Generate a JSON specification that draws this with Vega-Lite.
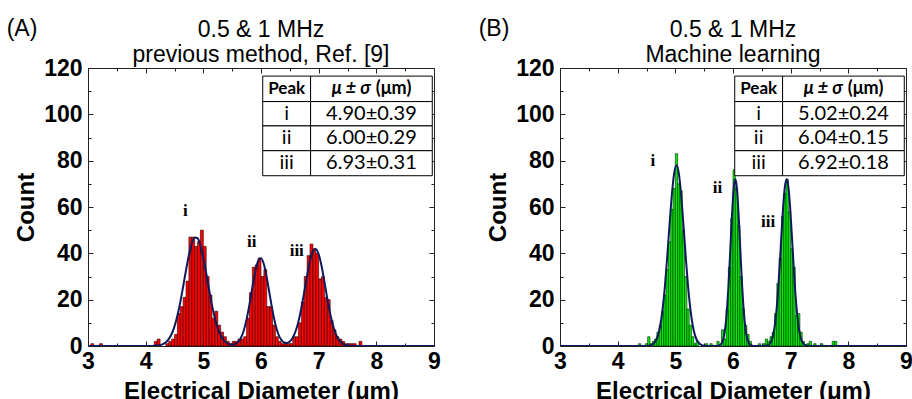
{
  "$schema": "https://vega.github.io/schema/vega-lite/v6.json",
  "padding": {"left": 6, "top": 17, "right": 0, "bottom": 0},
  "spacing": 37,
  "config": {
    "font": "Liberation Sans",
    "view": {"stroke": null},
    "axis": {
      "grid": false,
      "domainColor": "#222",
      "tickColor": "#222",
      "domainWidth": 1,
      "tickWidth": 1,
      "labelFont": "Liberation Sans",
      "labelFontSize": 23,
      "labelFontWeight": "bold",
      "labelColor": "black",
      "titleFont": "Liberation Sans",
      "titleFontSize": 24,
      "titleFontWeight": "bold",
      "titleColor": "black",
      "labelOverlap": false,
      "labelFlush": false
    },
    "title": {"font": "Liberation Sans", "fontSize": 23, "fontWeight": "normal", "color": "black", "lineHeight": 25, "offset": -49.5, "frame": "group"}
  },
  "datasets": {
    "barsA": [
      {"x0":3.05,"x1":3.10,"n":1},{"x0":3.20,"x1":3.25,"n":1},{"x0":4.15,"x1":4.20,"n":2},{"x0":4.20,"x1":4.25,"n":3},
      {"x0":4.35,"x1":4.40,"n":1},{"x0":4.40,"x1":4.45,"n":2},{"x0":4.45,"x1":4.50,"n":3},{"x0":4.50,"x1":4.55,"n":5},
      {"x0":4.55,"x1":4.60,"n":14},{"x0":4.60,"x1":4.65,"n":17},{"x0":4.65,"x1":4.70,"n":21},{"x0":4.70,"x1":4.75,"n":28},
      {"x0":4.75,"x1":4.80,"n":47},{"x0":4.80,"x1":4.85,"n":47},{"x0":4.85,"x1":4.90,"n":43},{"x0":4.90,"x1":4.95,"n":45},
      {"x0":4.95,"x1":5.00,"n":50},{"x0":5.00,"x1":5.05,"n":43},{"x0":5.05,"x1":5.10,"n":30},{"x0":5.10,"x1":5.15,"n":22},
      {"x0":5.15,"x1":5.20,"n":12},{"x0":5.20,"x1":5.25,"n":15},{"x0":5.25,"x1":5.30,"n":9},{"x0":5.30,"x1":5.35,"n":6},
      {"x0":5.35,"x1":5.40,"n":4},{"x0":5.40,"x1":5.45,"n":2},{"x0":5.45,"x1":5.50,"n":1},{"x0":5.50,"x1":5.55,"n":2},
      {"x0":5.55,"x1":5.60,"n":2},{"x0":5.60,"x1":5.65,"n":3},{"x0":5.65,"x1":5.70,"n":3},{"x0":5.70,"x1":5.75,"n":4},
      {"x0":5.75,"x1":5.80,"n":12},{"x0":5.80,"x1":5.85,"n":23},{"x0":5.85,"x1":5.90,"n":34},{"x0":5.90,"x1":5.95,"n":35},
      {"x0":5.95,"x1":6.00,"n":38},{"x0":6.00,"x1":6.05,"n":30},{"x0":6.05,"x1":6.10,"n":33},{"x0":6.10,"x1":6.15,"n":17},
      {"x0":6.15,"x1":6.20,"n":17},{"x0":6.20,"x1":6.25,"n":9},{"x0":6.25,"x1":6.30,"n":4},{"x0":6.30,"x1":6.35,"n":2},
      {"x0":6.35,"x1":6.40,"n":1},{"x0":6.40,"x1":6.45,"n":1},{"x0":6.45,"x1":6.50,"n":1},{"x0":6.50,"x1":6.55,"n":1},
      {"x0":6.55,"x1":6.60,"n":4},{"x0":6.60,"x1":6.65,"n":4},{"x0":6.65,"x1":6.70,"n":10},{"x0":6.70,"x1":6.75,"n":19},
      {"x0":6.75,"x1":6.80,"n":30},{"x0":6.80,"x1":6.85,"n":39},{"x0":6.85,"x1":6.90,"n":44},{"x0":6.90,"x1":6.95,"n":42},
      {"x0":6.95,"x1":7.00,"n":40},{"x0":7.00,"x1":7.05,"n":29},{"x0":7.05,"x1":7.10,"n":30},{"x0":7.10,"x1":7.15,"n":21},
      {"x0":7.15,"x1":7.20,"n":20},{"x0":7.20,"x1":7.25,"n":11},{"x0":7.25,"x1":7.30,"n":7},{"x0":7.30,"x1":7.35,"n":4},
      {"x0":7.35,"x1":7.40,"n":3},{"x0":7.40,"x1":7.45,"n":2},{"x0":7.45,"x1":7.50,"n":1},{"x0":7.50,"x1":7.55,"n":1},
      {"x0":7.55,"x1":7.60,"n":1},{"x0":7.60,"x1":7.65,"n":1},{"x0":7.70,"x1":7.75,"n":2}
    ],
    "barsB": [
      {"x0":4.36,"x1":4.40,"n":1},{"x0":4.48,"x1":4.52,"n":1},{"x0":4.52,"x1":4.56,"n":4},{"x0":4.56,"x1":4.60,"n":1},
      {"x0":4.60,"x1":4.64,"n":2},{"x0":4.64,"x1":4.68,"n":3},{"x0":4.68,"x1":4.72,"n":6},{"x0":4.72,"x1":4.76,"n":9},
      {"x0":4.76,"x1":4.80,"n":15},{"x0":4.80,"x1":4.84,"n":22},{"x0":4.84,"x1":4.88,"n":33},{"x0":4.88,"x1":4.92,"n":45},
      {"x0":4.92,"x1":4.96,"n":59},{"x0":4.96,"x1":5.00,"n":68},{"x0":5.00,"x1":5.04,"n":83},{"x0":5.04,"x1":5.08,"n":70},
      {"x0":5.08,"x1":5.12,"n":67},{"x0":5.12,"x1":5.16,"n":50},{"x0":5.16,"x1":5.20,"n":30},{"x0":5.20,"x1":5.24,"n":16},
      {"x0":5.24,"x1":5.28,"n":9},{"x0":5.28,"x1":5.32,"n":4},{"x0":5.32,"x1":5.36,"n":1},{"x0":5.36,"x1":5.40,"n":2},
      {"x0":5.52,"x1":5.56,"n":1},{"x0":5.60,"x1":5.64,"n":1},{"x0":5.72,"x1":5.76,"n":2},{"x0":5.80,"x1":5.84,"n":7},
      {"x0":5.84,"x1":5.88,"n":3},{"x0":5.88,"x1":5.92,"n":16},{"x0":5.92,"x1":5.96,"n":34},{"x0":5.96,"x1":6.00,"n":55},
      {"x0":6.00,"x1":6.04,"n":76},{"x0":6.04,"x1":6.08,"n":68},{"x0":6.08,"x1":6.12,"n":52},{"x0":6.12,"x1":6.16,"n":30},
      {"x0":6.16,"x1":6.20,"n":16},{"x0":6.20,"x1":6.24,"n":9},{"x0":6.24,"x1":6.28,"n":5},{"x0":6.28,"x1":6.32,"n":2},
      {"x0":6.44,"x1":6.48,"n":1},{"x0":6.52,"x1":6.56,"n":1},{"x0":6.56,"x1":6.60,"n":3},{"x0":6.60,"x1":6.64,"n":2},
      {"x0":6.64,"x1":6.68,"n":4},{"x0":6.68,"x1":6.72,"n":6},{"x0":6.72,"x1":6.76,"n":14},{"x0":6.76,"x1":6.80,"n":27},
      {"x0":6.80,"x1":6.84,"n":38},{"x0":6.84,"x1":6.88,"n":56},{"x0":6.88,"x1":6.92,"n":66},{"x0":6.92,"x1":6.96,"n":72},
      {"x0":6.96,"x1":7.00,"n":58},{"x0":7.00,"x1":7.04,"n":42},{"x0":7.04,"x1":7.08,"n":34},{"x0":7.08,"x1":7.12,"n":13},
      {"x0":7.12,"x1":7.16,"n":14},{"x0":7.16,"x1":7.20,"n":6},{"x0":7.20,"x1":7.24,"n":2},{"x0":7.28,"x1":7.32,"n":1},
      {"x0":7.32,"x1":7.36,"n":2},{"x0":7.40,"x1":7.44,"n":1},{"x0":7.52,"x1":7.56,"n":1},{"x0":7.72,"x1":7.76,"n":2},
      {"x0":7.76,"x1":7.80,"n":2}
    ],
    "curveA": [
      {"x":3.0,"y":0},{"x":4.0,"y":0},{"x":4.1,"y":0.03},{"x":4.15,"y":0.07},{"x":4.2,"y":0.17},{"x":4.25,"y":0.38},
      {"x":4.3,"y":0.81},{"x":4.35,"y":1.6},{"x":4.4,"y":2.97},{"x":4.45,"y":5.18},{"x":4.5,"y":8.49},{"x":4.55,"y":13.07},
      {"x":4.6,"y":18.9},{"x":4.65,"y":25.7},{"x":4.7,"y":32.8},{"x":4.75,"y":39.3},{"x":4.8,"y":44.2},{"x":4.85,"y":46.8},
      {"x":4.9,"y":46.5},{"x":4.95,"y":43.4},{"x":5.0,"y":38.1},{"x":5.05,"y":31.4},{"x":5.1,"y":24.3},{"x":5.15,"y":17.6},
      {"x":5.2,"y":12.1},{"x":5.25,"y":7.73},{"x":5.3,"y":4.66},{"x":5.35,"y":2.64},{"x":5.4,"y":1.42},{"x":5.45,"y":0.79},
      {"x":5.5,"y":0.59},{"x":5.55,"y":0.83},{"x":5.6,"y":1.67},{"x":5.65,"y":3.45},{"x":5.7,"y":6.6},{"x":5.75,"y":11.5},
      {"x":5.8,"y":17.9},{"x":5.85,"y":25.3},{"x":5.9,"y":32.1},{"x":5.95,"y":36.7},{"x":6.0,"y":37.9},{"x":6.05,"y":35.3},
      {"x":6.1,"y":29.5},{"x":6.15,"y":22.3},{"x":6.2,"y":15.2},{"x":6.25,"y":9.33},{"x":6.3,"y":5.19},{"x":6.35,"y":2.7},
      {"x":6.4,"y":1.51},{"x":6.45,"y":1.3},{"x":6.5,"y":1.95},{"x":6.55,"y":3.57},{"x":6.6,"y":6.36},{"x":6.65,"y":10.6},
      {"x":6.7,"y":16.4},{"x":6.75,"y":23.3},{"x":6.8,"y":30.5},{"x":6.85,"y":36.8},{"x":6.9,"y":40.9},{"x":6.95,"y":41.9},
      {"x":7.0,"y":39.6},{"x":7.05,"y":34.5},{"x":7.1,"y":27.7},{"x":7.15,"y":20.4},{"x":7.2,"y":13.9},{"x":7.25,"y":8.74},
      {"x":7.3,"y":5.06},{"x":7.35,"y":2.7},{"x":7.4,"y":1.33},{"x":7.45,"y":0.6},{"x":7.5,"y":0.25},{"x":7.55,"y":0.1},
      {"x":7.6,"y":0.04},{"x":8.0,"y":0},{"x":9.0,"y":0}
    ],
    "curveB": [
      {"x":3.0,"y":0},{"x":4.4,"y":0},{"x":4.5,"y":0.05},{"x":4.54,"y":0.14},{"x":4.58,"y":0.39},{"x":4.62,"y":0.97},
      {"x":4.66,"y":2.23},{"x":4.7,"y":4.7},{"x":4.74,"y":9.08},{"x":4.78,"y":16.1},{"x":4.82,"y":26.0},{"x":4.86,"y":38.7},
      {"x":4.9,"y":52.5},{"x":4.94,"y":65.4},{"x":4.98,"y":74.6},{"x":5.02,"y":78},{"x":5.06,"y":74.6},{"x":5.1,"y":65.4},
      {"x":5.14,"y":52.5},{"x":5.18,"y":38.7},{"x":5.22,"y":26.0},{"x":5.26,"y":16.1},{"x":5.3,"y":9.08},{"x":5.34,"y":4.7},
      {"x":5.38,"y":2.23},{"x":5.42,"y":0.97},{"x":5.46,"y":0.39},{"x":5.5,"y":0.14},{"x":5.54,"y":0.05},{"x":5.62,"y":0},
      {"x":5.72,"y":0.04},{"x":5.74,"y":0.11},{"x":5.76,"y":0.24},{"x":5.78,"y":0.53},{"x":5.8,"y":1.1},{"x":5.82,"y":2.15},
      {"x":5.84,"y":3.95},{"x":5.86,"y":6.85},{"x":5.88,"y":11.2},{"x":5.9,"y":17.4},{"x":5.92,"y":25.3},{"x":5.94,"y":34.8},
      {"x":5.96,"y":45.3},{"x":5.98,"y":55.5},{"x":6.0,"y":64.1},{"x":6.02,"y":69.9},{"x":6.04,"y":72},{"x":6.06,"y":69.9},
      {"x":6.08,"y":64.1},{"x":6.1,"y":55.5},{"x":6.12,"y":45.3},{"x":6.14,"y":34.8},{"x":6.16,"y":25.3},{"x":6.18,"y":17.4},
      {"x":6.2,"y":11.2},{"x":6.22,"y":6.85},{"x":6.24,"y":3.95},{"x":6.26,"y":2.15},{"x":6.28,"y":1.1},{"x":6.3,"y":0.53},
      {"x":6.32,"y":0.24},{"x":6.34,"y":0.11},{"x":6.36,"y":0.04},{"x":6.45,"y":0.01},{"x":6.54,"y":0.04},{"x":6.57,"y":0.11},
      {"x":6.6,"y":0.31},{"x":6.63,"y":0.8},{"x":6.66,"y":1.88},{"x":6.69,"y":4.04},{"x":6.72,"y":7.94},{"x":6.75,"y":14.3},
      {"x":6.78,"y":23.4},{"x":6.81,"y":35.0},{"x":6.84,"y":48.0},{"x":6.87,"y":60.2},{"x":6.9,"y":68.8},{"x":6.93,"y":72},
      {"x":6.96,"y":68.8},{"x":6.99,"y":60.2},{"x":7.02,"y":48.0},{"x":7.05,"y":35.0},{"x":7.08,"y":23.4},{"x":7.11,"y":14.3},
      {"x":7.14,"y":7.94},{"x":7.17,"y":4.04},{"x":7.2,"y":1.88},{"x":7.23,"y":0.8},{"x":7.26,"y":0.31},{"x":7.29,"y":0.11},
      {"x":7.32,"y":0.04},{"x":7.5,"y":0},{"x":9.0,"y":0}
    ],
    "cells": [
      {"x0":6.03,"x1":6.86,"y0":105.5,"y1":116.5},{"x0":6.86,"x1":8.97,"y0":105.5,"y1":116.5},
      {"x0":6.03,"x1":6.86,"y0":95,"y1":105.5},{"x0":6.86,"x1":8.97,"y0":95,"y1":105.5},
      {"x0":6.03,"x1":6.86,"y0":84.3,"y1":95},{"x0":6.86,"x1":8.97,"y0":84.3,"y1":95},
      {"x0":6.03,"x1":6.86,"y0":73.5,"y1":84.3},{"x0":6.86,"x1":8.97,"y0":73.5,"y1":84.3}
    ],
    "headPeak": [{"cx":6.445,"cy":111,"t":"Peak"}],
    "headMu": [{"cx":7.9,"cy":111,"t":"μ ± σ"}],
    "headUnit": [{"cx":7.99,"cy":111,"t":"(μm)"}],
    "tableA": [
      {"cx":6.445,"cy":100.25,"t":"i"},{"cx":7.915,"cy":100.25,"t":"4.90±0.39"},
      {"cx":6.445,"cy":89.65,"t":"ii"},{"cx":7.915,"cy":89.65,"t":"6.00±0.29"},
      {"cx":6.445,"cy":78.9,"t":"iii"},{"cx":7.915,"cy":78.9,"t":"6.93±0.31"}
    ],
    "tableB": [
      {"cx":6.445,"cy":100.25,"t":"i"},{"cx":7.915,"cy":100.25,"t":"5.02±0.24"},
      {"cx":6.445,"cy":89.65,"t":"ii"},{"cx":7.915,"cy":89.65,"t":"6.04±0.15"},
      {"cx":6.445,"cy":78.9,"t":"iii"},{"cx":7.915,"cy":78.9,"t":"6.92±0.18"}
    ],
    "peaksA": [{"cx":4.69,"cy":58.3,"t":"i"},{"cx":5.84,"cy":44.8,"t":"ii"},{"cx":6.62,"cy":40.9,"t":"iii"}],
    "peaksB": [{"cx":4.61,"cy":80,"t":"i"},{"cx":5.73,"cy":68.1,"t":"ii"},{"cx":6.61,"cy":53.6,"t":"iii"}],
    "tagA": [{"cx":1.59,"cy":137,"t":"(A)"}],
    "tagB": [{"cx":1.59,"cy":137,"t":"(B)"}]
  },
  "hconcat": [
    {
      "width": 346, "height": 278,
      "title": {"text": ["0.5 & 1 MHz", "previous method, Ref. [9]"]},
      "resolve": {"axis": {"x": "independent", "y": "independent"}},
      "layer": [
        {
          "data": {"name": "barsA"},
          "mark": {"type": "rect", "fill": "#ff0000", "stroke": "#2a0000", "strokeWidth": 0.6},
          "encoding": {
            "x": {"field": "x0", "type": "quantitative", "scale": {"domain": [3, 9], "nice": false},
              "axis": {"values": [3,3.5,4,4.5,5,5.5,6,6.5,7,7.5,8,8.5,9], "format": ".0f",
                "labelExpr": "datum.value % 1 === 0 ? datum.label : ''",
                "tickSize": {"condition": {"test": "datum.value % 1 === 0", "value": -5}, "value": -3},
                "labelPadding": 9, "titlePadding": 4, "title": "Electrical Diameter (μm)"}},
            "x2": {"field": "x1"},
            "y": {"field": "n", "type": "quantitative", "scale": {"domain": [0, 120], "nice": false},
              "axis": {"values": [0,10,20,30,40,50,60,70,80,90,100,110,120],
                "labelExpr": "datum.value % 20 === 0 ? datum.label : ''",
                "tickSize": {"condition": {"test": "datum.value % 20 === 0", "value": -5}, "value": -3},
                "labelPadding": 11, "titlePadding": 5, "title": "Count"}},
            "y2": {"datum": 0}
          }
        },
        {
          "data": {"name": "curveA"},
          "mark": {"type": "line", "color": "#0e1a5c", "strokeWidth": 2, "interpolate": "monotone", "clip": true},
          "encoding": {
            "x": {"field": "x", "type": "quantitative", "scale": {"domain": [3, 9], "nice": false},
              "axis": {"orient": "top", "values": [3,3.5,4,4.5,5,5.5,6,6.5,7,7.5,8,8.5,9], "labels": false, "title": null,
                "tickSize": {"condition": {"test": "datum.value % 1 === 0", "value": -5}, "value": -3}}},
            "y": {"field": "y", "type": "quantitative", "scale": {"domain": [0, 120], "nice": false},
              "axis": {"orient": "right", "values": [0,10,20,30,40,50,60,70,80,90,100,110,120], "labels": false, "title": null,
                "tickSize": {"condition": {"test": "datum.value % 20 === 0", "value": -5}, "value": -3}}}
          }
        },
        {
          "data": {"name": "cells"},
          "mark": {"type": "rect", "fill": "white", "stroke": "black", "strokeWidth": 1},
          "encoding": {
            "x": {"field": "x0", "type": "quantitative", "scale": {"domain": [3, 9], "nice": false}, "axis": null},
            "x2": {"field": "x1"},
            "y": {"field": "y0", "type": "quantitative", "scale": {"domain": [0, 120], "nice": false}, "axis": null},
            "y2": {"field": "y1"}
          }
        },
        {
          "data": {"name": "headPeak"},
          "mark": {"type": "text", "font": "Lato", "fontSize": 17, "fontWeight": "bold", "align": "center", "baseline": "middle", "color": "black"},
          "encoding": {
            "x": {"field": "cx", "type": "quantitative", "scale": {"domain": [3, 9], "nice": false}, "axis": null},
            "y": {"field": "cy", "type": "quantitative", "scale": {"domain": [0, 120], "nice": false}, "axis": null},
            "text": {"field": "t"}
          }
        },
        {
          "data": {"name": "headMu"},
          "mark": {"type": "text", "font": "Lato", "fontSize": 18, "fontWeight": "bold", "fontStyle": "italic", "align": "right", "baseline": "middle", "color": "black"},
          "encoding": {
            "x": {"field": "cx", "type": "quantitative", "scale": {"domain": [3, 9], "nice": false}, "axis": null},
            "y": {"field": "cy", "type": "quantitative", "scale": {"domain": [0, 120], "nice": false}, "axis": null},
            "text": {"field": "t"}
          }
        },
        {
          "data": {"name": "headUnit"},
          "mark": {"type": "text", "font": "Lato", "fontSize": 18, "fontWeight": "bold", "align": "left", "baseline": "middle", "color": "black"},
          "encoding": {
            "x": {"field": "cx", "type": "quantitative", "scale": {"domain": [3, 9], "nice": false}, "axis": null},
            "y": {"field": "cy", "type": "quantitative", "scale": {"domain": [0, 120], "nice": false}, "axis": null},
            "text": {"field": "t"}
          }
        },
        {
          "data": {"name": "tableA"},
          "mark": {"type": "text", "font": "Lato", "fontSize": 20, "align": "center", "baseline": "middle", "color": "black"},
          "encoding": {
            "x": {"field": "cx", "type": "quantitative", "scale": {"domain": [3, 9], "nice": false}, "axis": null},
            "y": {"field": "cy", "type": "quantitative", "scale": {"domain": [0, 120], "nice": false}, "axis": null},
            "text": {"field": "t"}
          }
        },
        {
          "data": {"name": "peaksA"},
          "mark": {"type": "text", "font": "Liberation Serif", "fontSize": 17, "fontWeight": "bold", "align": "center", "baseline": "middle", "color": "black"},
          "encoding": {
            "x": {"field": "cx", "type": "quantitative", "scale": {"domain": [3, 9], "nice": false}, "axis": null},
            "y": {"field": "cy", "type": "quantitative", "scale": {"domain": [0, 120], "nice": false}, "axis": null},
            "text": {"field": "t"}
          }
        },
        {
          "data": {"name": "tagA"},
          "mark": {"type": "text", "font": "Liberation Sans", "fontSize": 23, "align": "left", "baseline": "middle", "color": "black"},
          "encoding": {
            "x": {"field": "cx", "type": "quantitative", "scale": {"domain": [3, 9], "nice": false}, "axis": null},
            "y": {"field": "cy", "type": "quantitative", "scale": {"domain": [0, 120], "nice": false}, "axis": null},
            "text": {"field": "t"}
          }
        }
      ]
    },
    {
      "width": 346, "height": 278,
      "title": {"text": ["0.5 & 1 MHz", "Machine learning"]},
      "resolve": {"axis": {"x": "independent", "y": "independent"}},
      "layer": [
        {
          "data": {"name": "barsB"},
          "mark": {"type": "rect", "fill": "#00ee00", "stroke": "#002a00", "strokeWidth": 0.6},
          "encoding": {
            "x": {"field": "x0", "type": "quantitative", "scale": {"domain": [3, 9], "nice": false},
              "axis": {"values": [3,3.5,4,4.5,5,5.5,6,6.5,7,7.5,8,8.5,9], "format": ".0f",
                "labelExpr": "datum.value % 1 === 0 ? datum.label : ''",
                "tickSize": {"condition": {"test": "datum.value % 1 === 0", "value": -5}, "value": -3},
                "labelPadding": 9, "titlePadding": 4, "title": "Electrical Diameter (μm)"}},
            "x2": {"field": "x1"},
            "y": {"field": "n", "type": "quantitative", "scale": {"domain": [0, 120], "nice": false},
              "axis": {"values": [0,10,20,30,40,50,60,70,80,90,100,110,120],
                "labelExpr": "datum.value % 20 === 0 ? datum.label : ''",
                "tickSize": {"condition": {"test": "datum.value % 20 === 0", "value": -5}, "value": -3},
                "labelPadding": 11, "titlePadding": 5, "title": "Count"}},
            "y2": {"datum": 0}
          }
        },
        {
          "data": {"name": "curveB"},
          "mark": {"type": "line", "color": "#0e1a5c", "strokeWidth": 2, "interpolate": "monotone", "clip": true},
          "encoding": {
            "x": {"field": "x", "type": "quantitative", "scale": {"domain": [3, 9], "nice": false},
              "axis": {"orient": "top", "values": [3,3.5,4,4.5,5,5.5,6,6.5,7,7.5,8,8.5,9], "labels": false, "title": null,
                "tickSize": {"condition": {"test": "datum.value % 1 === 0", "value": -5}, "value": -3}}},
            "y": {"field": "y", "type": "quantitative", "scale": {"domain": [0, 120], "nice": false},
              "axis": {"orient": "right", "values": [0,10,20,30,40,50,60,70,80,90,100,110,120], "labels": false, "title": null,
                "tickSize": {"condition": {"test": "datum.value % 20 === 0", "value": -5}, "value": -3}}}
          }
        },
        {
          "data": {"name": "cells"},
          "mark": {"type": "rect", "fill": "white", "stroke": "black", "strokeWidth": 1},
          "encoding": {
            "x": {"field": "x0", "type": "quantitative", "scale": {"domain": [3, 9], "nice": false}, "axis": null},
            "x2": {"field": "x1"},
            "y": {"field": "y0", "type": "quantitative", "scale": {"domain": [0, 120], "nice": false}, "axis": null},
            "y2": {"field": "y1"}
          }
        },
        {
          "data": {"name": "headPeak"},
          "mark": {"type": "text", "font": "Lato", "fontSize": 17, "fontWeight": "bold", "align": "center", "baseline": "middle", "color": "black"},
          "encoding": {
            "x": {"field": "cx", "type": "quantitative", "scale": {"domain": [3, 9], "nice": false}, "axis": null},
            "y": {"field": "cy", "type": "quantitative", "scale": {"domain": [0, 120], "nice": false}, "axis": null},
            "text": {"field": "t"}
          }
        },
        {
          "data": {"name": "headMu"},
          "mark": {"type": "text", "font": "Lato", "fontSize": 18, "fontWeight": "bold", "fontStyle": "italic", "align": "right", "baseline": "middle", "color": "black"},
          "encoding": {
            "x": {"field": "cx", "type": "quantitative", "scale": {"domain": [3, 9], "nice": false}, "axis": null},
            "y": {"field": "cy", "type": "quantitative", "scale": {"domain": [0, 120], "nice": false}, "axis": null},
            "text": {"field": "t"}
          }
        },
        {
          "data": {"name": "headUnit"},
          "mark": {"type": "text", "font": "Lato", "fontSize": 18, "fontWeight": "bold", "align": "left", "baseline": "middle", "color": "black"},
          "encoding": {
            "x": {"field": "cx", "type": "quantitative", "scale": {"domain": [3, 9], "nice": false}, "axis": null},
            "y": {"field": "cy", "type": "quantitative", "scale": {"domain": [0, 120], "nice": false}, "axis": null},
            "text": {"field": "t"}
          }
        },
        {
          "data": {"name": "tableB"},
          "mark": {"type": "text", "font": "Lato", "fontSize": 20, "align": "center", "baseline": "middle", "color": "black"},
          "encoding": {
            "x": {"field": "cx", "type": "quantitative", "scale": {"domain": [3, 9], "nice": false}, "axis": null},
            "y": {"field": "cy", "type": "quantitative", "scale": {"domain": [0, 120], "nice": false}, "axis": null},
            "text": {"field": "t"}
          }
        },
        {
          "data": {"name": "peaksB"},
          "mark": {"type": "text", "font": "Liberation Serif", "fontSize": 17, "fontWeight": "bold", "align": "center", "baseline": "middle", "color": "black"},
          "encoding": {
            "x": {"field": "cx", "type": "quantitative", "scale": {"domain": [3, 9], "nice": false}, "axis": null},
            "y": {"field": "cy", "type": "quantitative", "scale": {"domain": [0, 120], "nice": false}, "axis": null},
            "text": {"field": "t"}
          }
        },
        {
          "data": {"name": "tagB"},
          "mark": {"type": "text", "font": "Liberation Sans", "fontSize": 23, "align": "left", "baseline": "middle", "color": "black"},
          "encoding": {
            "x": {"field": "cx", "type": "quantitative", "scale": {"domain": [3, 9], "nice": false}, "axis": null},
            "y": {"field": "cy", "type": "quantitative", "scale": {"domain": [0, 120], "nice": false}, "axis": null},
            "text": {"field": "t"}
          }
        }
      ]
    }
  ]
}
